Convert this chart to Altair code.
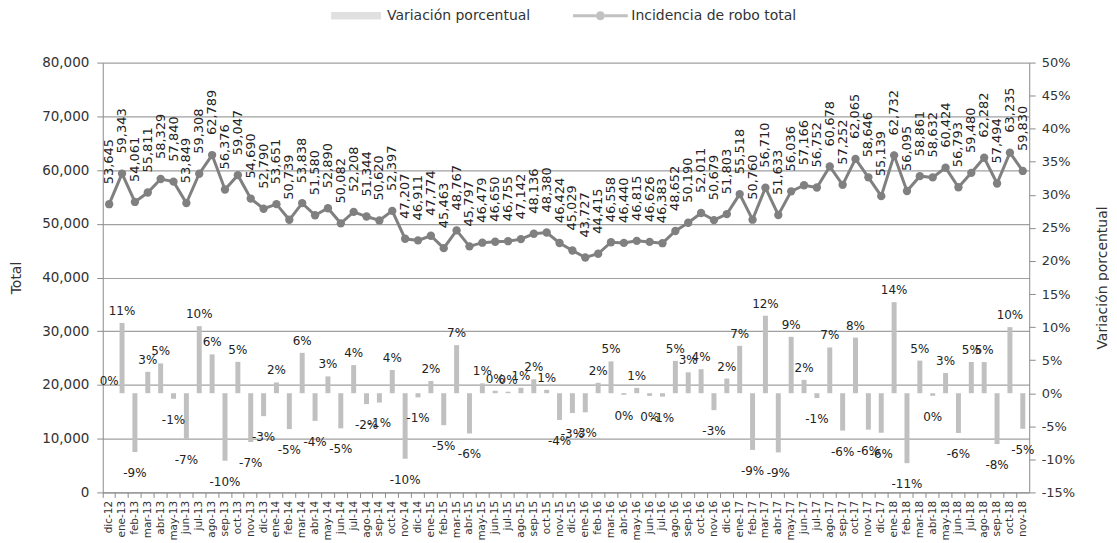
import altair as alt
import pandas as pd

meses = [
    "dic-12",
    "ene-13", "feb-13", "mar-13", "abr-13", "may-13", "jun-13", "jul-13", "ago-13", "sep-13", "oct-13", "nov-13", "dic-13",
    "ene-14", "feb-14", "mar-14", "abr-14", "may-14", "jun-14", "jul-14", "ago-14", "sep-14", "oct-14", "nov-14", "dic-14",
    "ene-15", "feb-15", "mar-15", "abr-15", "may-15", "jun-15", "jul-15", "ago-15", "sep-15", "oct-15", "nov-15", "dic-15",
    "ene-16", "feb-16", "mar-16", "abr-16", "may-16", "jun-16", "jul-16", "ago-16", "sep-16", "oct-16", "nov-16", "dic-16",
    "ene-17", "feb-17", "mar-17", "abr-17", "may-17", "jun-17", "jul-17", "ago-17", "sep-17", "oct-17", "nov-17", "dic-17",
    "ene-18", "feb-18", "mar-18", "abr-18", "may-18", "jun-18", "jul-18", "ago-18", "sep-18", "oct-18", "nov-18",
]

total = [
    53645,
    59343, 54061, 55811, 58329, 57840, 53849, 59308, 62789, 56376, 59047, 54690, 52790,
    53651, 50739, 53838, 51580, 52890, 50082, 52208, 51344, 50620, 52397, 47207, 46911,
    47774, 45463, 48767, 45797, 46479, 46650, 46755, 47142, 48136, 48380, 46424, 45029,
    43727, 44415, 46558, 46440, 46815, 46626, 46383, 48652, 50190, 52011, 50679, 51803,
    55518, 50760, 56710, 51633, 56036, 57166, 56752, 60678, 57252, 62065, 58646, 55139,
    62732, 56095, 58861, 58632, 60424, 56793, 59480, 62282, 57494, 63235, 59830,
]

variacion = [
    0.0,
    10.62, -8.90, 3.24, 4.51, -0.84, -6.90, 10.14, 5.87, -10.21, 4.74, -7.38, -3.47,
    1.63, -5.43, 6.11, -4.19, 2.54, -5.31, 4.25, -1.65, -1.41, 3.51, -9.91, -0.63,
    1.84, -4.84, 7.27, -6.09, 1.49, 0.37, 0.23, 0.83, 2.11, 0.51, -4.04, -3.00,
    -2.89, 1.57, 4.82, -0.25, 0.81, -0.40, -0.52, 4.89, 3.16, 3.63, -2.56, 2.22,
    7.17, -8.57, 11.72, -8.95, 8.53, 2.02, -0.72, 6.92, -5.65, 8.41, -5.51, -5.98,
    13.77, -10.58, 4.93, -0.39, 3.06, -6.01, 4.73, 4.71, -7.69, 9.99, -5.38,
]

series = ["Variación porcentual", "Incidencia de robo total"]
colores = ["#c0c0c0", "#808080"]
ticks_total = [0, 10000, 20000, 30000, 40000, 50000, 60000, 70000, 80000]
ticks_pct = [-15, -10, -5, 0, 5, 10, 15, 20, 25, 30, 35, 40, 45, 50]

FONT = "DejaVu Sans"

df = pd.DataFrame({"mes": meses, "total": total, "pct": variacion})
df_leg = pd.DataFrame({"serie": series})

x_enc = alt.X(
    "mes:N",
    sort=meses,
    scale=alt.Scale(paddingInner=0, paddingOuter=0),
    axis=alt.Axis(
        title=None, labelAngle=270, labelFontSize=10.5, tickSize=5,
        labelPadding=3, bandPosition=0, grid=False,
    ),
)

y_pct = alt.Y(
    "pct:Q",
    scale=alt.Scale(domain=[-15, 50], nice=False, zero=False),
    axis=alt.Axis(
        orient="right", values=ticks_pct, labelExpr="datum.value + '%'",
        grid=False, tickSize=6, labelPadding=6, labelFontSize=13,
        title="Variación porcentual", titleFontSize=14, titleFontWeight="normal",
        titleAngle=270, titleX=73, titleY=215.5, titleAlign="center", titleBaseline="middle",
    ),
)

y_tot = alt.Y(
    "total:Q",
    scale=alt.Scale(domain=[0, 80000], nice=False),
    axis=alt.Axis(
        orient="left", values=ticks_total, labelExpr="format(datum.value, ',')",
        grid=True, tickSize=6, labelPadding=8, labelFontSize=13.5,
        title="Total", titleFontSize=14, titleFontWeight="normal",
        titleAngle=270, titleX=-86, titleY=215.5, titleAlign="center", titleBaseline="middle",
    ),
)

base = alt.Chart(df)

bars = base.mark_bar(size=5, color=colores[0]).encode(x=x_enc, y=y_pct)

lab_pos = base.transform_filter("datum.pct >= 0").transform_calculate(
    lab="round(datum.pct) + '%'"
).mark_text(baseline="bottom", dy=-5, fontSize=12, font=FONT, color="#222").encode(
    x=x_enc, y=y_pct, text="lab:N"
)

lab_neg = base.transform_filter("datum.pct < 0").transform_calculate(
    lab="round(datum.pct) + '%'"
).mark_text(baseline="top", dy=16, fontSize=12, font=FONT, color="#222").encode(
    x=x_enc, y=y_pct, text="lab:N"
)

bar_group = alt.layer(bars, lab_pos, lab_neg)

line = base.mark_line(color=colores[1], strokeWidth=3).encode(x=x_enc, y=y_tot)
pts = base.mark_circle(color=colores[1], size=70, opacity=1).encode(x=x_enc, y=y_tot)
line_lab = base.mark_text(
    angle=270, align="left", baseline="middle", dx=20, fontSize=13, font=FONT, color="#222"
).encode(x=x_enc, y=y_tot, text=alt.Text("total:Q", format=","))

path_bar = "M-2.5,-0.38H2.5V0.38H-2.5Z"
path_line = ("M-2.75,-0.15H-0.45V0.15H-2.75Z M0.45,-0.15H2.75V0.15H0.45Z "
             "M0.45,0A0.45,0.45 0 1,1 -0.45,0A0.45,0.45 0 1,1 0.45,0Z")

# legend-only helper layer: its points sit outside the drawn canvas
legend_layer = alt.Chart(df_leg).mark_point(filled=True, size=400, strokeWidth=0).encode(
    x=alt.value(-2000),
    y=alt.value(-2000),
    color=alt.Color(
        "serie:N",
        scale=alt.Scale(domain=series, range=colores),
        legend=alt.Legend(
            title=None, orient="none", direction="horizontal",
            legendX=244, legendY=-57, symbolSize=400, symbolOpacity=1,
            symbolStrokeWidth=0, labelFontSize=14, labelFont=FONT, labelColor="#333",
            labelOffset=21, columnPadding=42, padding=0, labelLimit=0,
        ),
    ),
    shape=alt.Shape("serie:N", scale=alt.Scale(domain=series, range=[path_bar, path_line])),
)

line_group = alt.layer(line, pts, line_lab, legend_layer)

chart = alt.layer(bar_group, line_group).resolve_scale(y="independent").properties(
    width=929, height=431,
    autosize=alt.AutoSizeParams(type="none"),
    padding={"left": 95, "top": 54, "right": 80, "bottom": 50},
).configure_view(stroke=None).configure_axis(
    labelFont=FONT, titleFont=FONT, labelColor="#333", titleColor="#333",
    domainColor="#8c8c8c", tickColor="#8c8c8c", gridColor="#a0a0a0", gridWidth=1.2,
)

chart.save("out.html", embed_options={"renderer": "svg", "actions": False})
